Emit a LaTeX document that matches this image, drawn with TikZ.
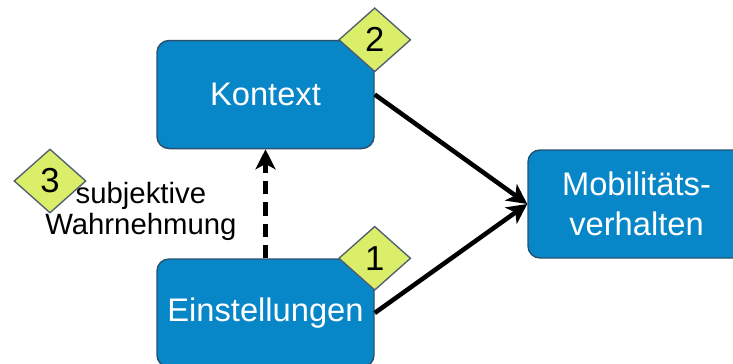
\documentclass[tikz,border=0pt]{standalone}
\usepackage{fontspec}
\setmainfont{Liberation Sans}
\usetikzlibrary{arrows.meta,
                positioning,
                shapes.geometric}
\definecolor{boxblue}{RGB}{8,135,200}
\definecolor{boxline}{RGB}{40,82,112}
\definecolor{tagfill}{RGB}{218,238,106}
\definecolor{tagline}{RGB}{78,94,110}
\tikzstyle{block} = [rectangle,rounded corners=9pt,fill=boxblue,draw=boxline,line width=1.1pt,minimum width=162.75pt,minimum height=81pt,text=white,align=center,font=\fontsize{24.5}{30}\selectfont]
\tikzstyle{tag} = [diamond,fill=tagfill,draw=tagline,line width=1pt,minimum width=54pt,minimum height=48pt,inner sep=0pt,font=\fontsize{26}{26}\selectfont]
\tikzstyle{arrow} = [line width=3.4pt,-{Stealth[length=15pt,width=15pt,inset=4pt]}]
\tikzstyle{dashedarrow} = [arrow,dash pattern=on 10pt off 6pt]

\begin{document}
\begin{tikzpicture}[x=0.75pt,y=-0.75pt]
        \clip (0,0) rectangle (733,364);
        \node[block] (einst) at (265.5,313) {Einstellungen};
        \node[block] (kontext)[above=81.75pt of einst] {Kontext};
        \node[block] (mobil) at (636.5,204) {Mobilitäts-\\verhalten};
        \node[tag] (tag1) at (einst.north east) {1};
        \node[tag] (tag2) at (kontext.north east) {2};
        \draw[arrow] (kontext.east) -- (mobil.west);
        \draw[arrow] (einst.east) -- (mobil.west);
        \draw[dashedarrow] (einst) -- node[left=20pt,yshift=-5.6pt,inner sep=0pt,align=center,font=\fontsize{22}{23.25}\selectfont] (percept) {subjektive\\Wahrnehmung} (kontext);
        \node[tag] (tag3) at (50,181) {3};
    \end{tikzpicture}
\end{document}
